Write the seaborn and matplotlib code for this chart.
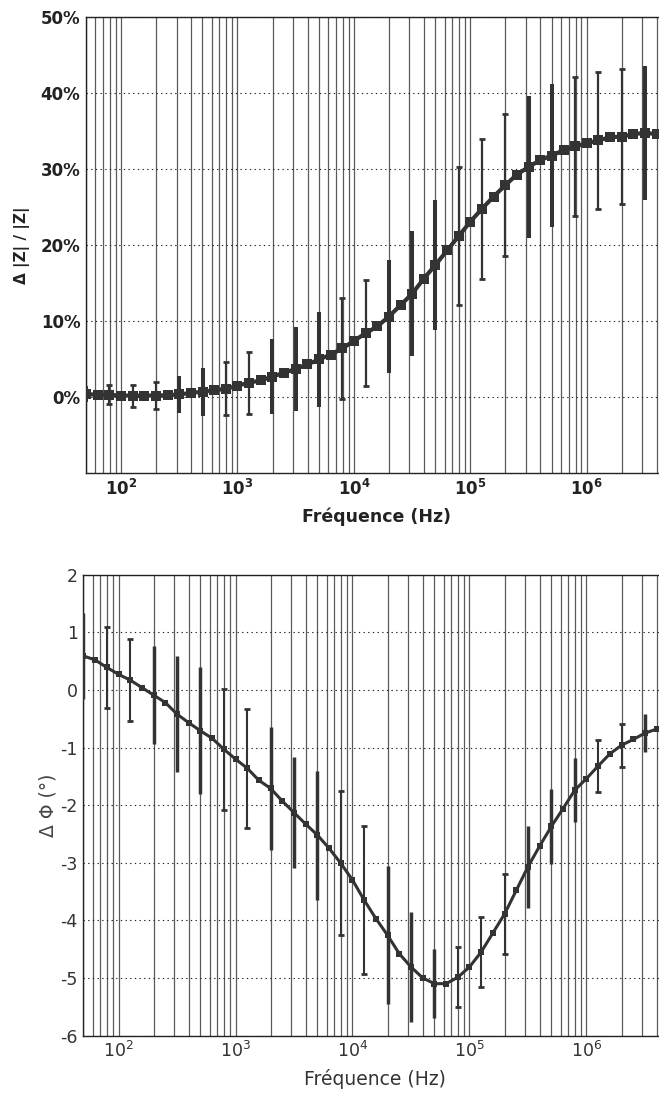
import numpy as np
import matplotlib
matplotlib.use("Agg")
import matplotlib.pyplot as plt
import matplotlib.ticker as mticker
import seaborn as sns

# ---- data ----
# measurement frequencies (Hz), 10 points per decade
freq = [50.1, 63.1, 79.4, 100, 125.9, 158.5, 199.5, 251.2, 316.2, 398.1,
        501.2, 631, 794.3, 1e3, 1259, 1585, 1995, 2512, 3162, 3981,
        5012, 6310, 7943, 1e4, 12590, 15850, 19950, 25120, 31620, 39810,
        50120, 63100, 79430, 1e5, 125900, 158500, 199500, 251200, 316200, 398100,
        501200, 631000, 794300, 1e6, 1259000, 1585000, 1995000, 2512000, 3162000, 3981000]

# relative change of |Z| (%)
dz = [0.4, 0.3, 0.3, 0.2, 0.2, 0.2, 0.2, 0.25, 0.35, 0.55,
      0.7, 0.9, 1.1, 1.5, 1.9, 2.2, 2.7, 3.2, 3.7, 4.3,
      4.95, 5.6, 6.4, 7.4, 8.4, 9.3, 10.6, 12.1, 13.6, 15.6,
      17.4, 19.3, 21.2, 23.1, 24.8, 26.4, 27.9, 29.3, 30.3, 31.2,
      31.8, 32.5, 33.0, 33.4, 33.8, 34.2, 34.3, 34.6, 34.8, 34.6]
# error bars on every second point
dz_err = [1.1, 1.25, 1.45, 1.8, 2.45, 3.15, 3.5, 4.1, 4.9, 5.5,
          6.2, 6.6, 6.95, 7.4, 8.2, 8.6, 9.1, 9.2, 9.35, 9.4,
          9.4, 9.2, 9.0, 8.9, 8.85]
dz_capped = [0, 1, 1, 1, 0, 0, 1, 1, 0, 0, 0, 1, 1, 0, 0, 0, 1, 1, 1, 0, 0, 1, 1, 1, 0]

# phase change (degrees)
dphi = [0.59, 0.52, 0.39, 0.27, 0.17, 0.04, -0.09, -0.22, -0.42, -0.57,
        -0.71, -0.84, -1.03, -1.2, -1.36, -1.57, -1.71, -1.93, -2.13, -2.33,
        -2.52, -2.75, -3.01, -3.3, -3.65, -3.97, -4.26, -4.58, -4.81, -5.0,
        -5.1, -5.1, -4.99, -4.81, -4.55, -4.22, -3.89, -3.48, -3.07, -2.71,
        -2.37, -2.06, -1.74, -1.54, -1.32, -1.11, -0.96, -0.86, -0.75, -0.68]
dphi_err = [0.75, 0.71, 0.71, 0.85, 1.0, 1.1, 1.05, 1.03, 1.07, 0.96,
            1.12, 1.25, 1.29, 1.2, 0.96, 0.6, 0.52, 0.6, 0.7, 0.71,
            0.65, 0.55, 0.45, 0.37, 0.33]
dphi_capped = [0, 1, 1, 0, 0, 0, 1, 1, 0, 0, 0, 1, 1, 0, 0, 0, 1, 1, 1, 0, 0, 0, 1, 1, 0]

xtick_vals = [1e2, 1e3, 1e4, 1e5, 1e6]
xtick_exp = [2, 3, 4, 5, 6]
ytick_top = [0, 10, 20, 30, 40, 50]
ytick_top_labels = ["0%", "10%", "20%", "30%", "40%", "50%"]
ytick_bot = [-6, -5, -4, -3, -2, -1, 0, 1, 2]

# ---- style ----
sns.set_style("white")
plt.rcParams["font.family"] = ["DejaVu Sans"]
plt.rcParams["mathtext.fontset"] = "dejavusans"

ink = "#333333"

fig = plt.figure(figsize=(6.59, 10.93), dpi=100)
ax1 = fig.add_axes([0.1305, 0.5672, 0.8754, 0.4170])
ax2 = fig.add_axes([0.1264, 0.0526, 0.8795, 0.4216])


def setup_axis(ax, bold):
    ax.set_xscale("log")
    ax.set_xlim(50, 4.5e6)
    ax.xaxis.set_minor_locator(mticker.LogLocator(base=10, subs=np.arange(2, 10), numticks=50))
    ax.xaxis.set_minor_formatter(mticker.NullFormatter())
    ax.set_xticks(xtick_vals)
    if bold:
        ax.set_xticklabels([r"$\mathbf{10^{%d}}$" % e for e in xtick_exp])
    else:
        ax.set_xticklabels([r"$\mathregular{10^{%d}}$" % e for e in xtick_exp])
    ax.grid(True, which="both", axis="x", color="#5a5a5a", linestyle="-", linewidth=0.9)
    ax.grid(True, which="major", axis="y", color="#222222", linestyle=(0, (1.2, 3.0)), linewidth=0.8)
    ax.set_axisbelow(True)
    ax.tick_params(which="major", direction="in", length=3, color="#222222")
    ax.tick_params(which="minor", length=0)
    for s in ax.spines.values():
        s.set_color("#222222")
        s.set_linewidth(1.0)


# ---- top: |Z| ----
setup_axis(ax1, bold=True)
sns.lineplot(x=freq, y=dz, ax=ax1, color=ink, linewidth=3.0, marker="s",
             markersize=7.5, markeredgewidth=0, sort=False, zorder=3)
for f, v, e, c in zip(freq[::2], dz[::2], dz_err, dz_capped):
    if c:
        ax1.errorbar(f, v, yerr=e, fmt="none", ecolor=ink, elinewidth=1.6,
                     capsize=2, capthick=2, zorder=4)
    else:
        ax1.errorbar(f, v, yerr=e, fmt="none", ecolor=ink, elinewidth=2.9,
                     capsize=0, zorder=4)
ax1.set_ylim(-10, 50)
ax1.set_yticks(ytick_top)
ax1.set_yticklabels(ytick_top_labels)
ax1.tick_params(axis="both", labelsize=12, labelcolor="#222222", pad=4)
for lab in ax1.get_yticklabels():
    lab.set_fontweight("bold")
ax1.set_xlabel("Fréquence (Hz)", fontsize=12.5, fontweight="bold", color="#222222")
ax1.set_ylabel("Δ |Z| / |Z|", fontsize=11, fontweight="bold", color="#222222")
ax1.xaxis.label.set_va("center")
ax1.xaxis.set_label_coords(0.503, -0.0966)
ax1.yaxis.label.set_va("center")
ax1.yaxis.set_label_coords(-0.111, 0.5)

# ---- bottom: phase ----
setup_axis(ax2, bold=False)
sns.lineplot(x=freq, y=dphi, ax=ax2, color=ink, linewidth=2.2, marker="s",
             markersize=5, markeredgewidth=0, sort=False, zorder=3)
for f, v, e, c in zip(freq[::2], dphi[::2], dphi_err, dphi_capped):
    if c:
        ax2.errorbar(f, v, yerr=e, fmt="none", ecolor=ink, elinewidth=1.5,
                     capsize=2, capthick=2, zorder=4)
    else:
        ax2.errorbar(f, v, yerr=e, fmt="none", ecolor=ink, elinewidth=2.5,
                     capsize=0, zorder=4)
ax2.set_ylim(-6, 2)
ax2.set_yticks(ytick_bot)
ax2.set_yticklabels([str(t) for t in ytick_bot])
ax2.tick_params(axis="both", labelsize=12.5, labelcolor="#333333", pad=4)
ax2.set_xlabel("Fréquence (Hz)", fontsize=13.5, color="#333333")
ax2.set_ylabel("Δ Φ (°)", fontsize=13.5, color="#444444")
ax2.xaxis.label.set_va("center")
ax2.xaxis.set_label_coords(0.503, -0.094)
ax2.yaxis.label.set_va("center")
ax2.yaxis.set_label_coords(-0.061, 0.5)

fig.savefig("out.png", dpi=100)
